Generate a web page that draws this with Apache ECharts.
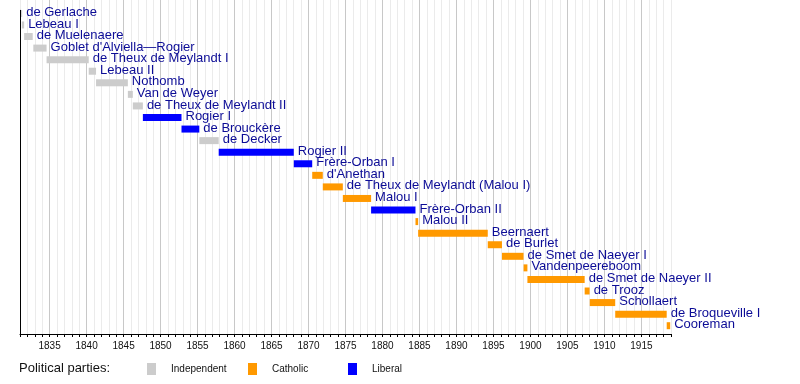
<!DOCTYPE html>
<html>
<head>
<meta charset="utf-8">
<script src="https://cdn.jsdelivr.net/npm/echarts@6/dist/echarts.min.js"></script>
<style>html,body{margin:0;padding:0;background:#fff}#c{width:800px;height:384px}</style>
</head>
<body>
<div id="c"></div>
<script>
var names = ["de Gerlache","Lebeau I","de Muelenaere","Goblet d'Alviella\u2014Rogier","de Theux de Meylandt I","Lebeau II","Nothomb","Van de Weyer","de Theux de Meylandt II","Rogier I","de Brouckère","de Decker","Rogier II","Frère-Orban I","d'Anethan","de Theux de Meylandt (Malou I)","Malou I","Frère-Orban II","Malou II","Beernaert","de Burlet","de Smet de Naeyer I","Vandenpeereboom","de Smet de Naeyer II","de Trooz","Schollaert","de Broqueville I","Cooreman"];
var starts = [1831.16,1831.24,1831.56,1832.80,1834.59,1840.29,1841.28,1845.58,1846.25,1847.61,1852.83,1855.24,1857.86,1868.01,1870.50,1871.93,1874.64,1878.46,1884.46,1884.82,1894.23,1896.15,1899.07,1899.59,1907.33,1908.02,1911.46,1918.42];
var ends = [1831.22,1831.56,1832.72,1834.59,1840.29,1841.28,1845.58,1846.25,1847.61,1852.83,1855.24,1857.86,1868.01,1870.50,1871.93,1874.64,1878.46,1884.46,1884.82,1894.23,1896.15,1899.07,1899.59,1907.33,1908.00,1911.46,1918.42,1918.89];
var parties = ["Independent","Independent","Independent","Independent","Independent","Independent","Independent","Independent","Independent","Liberal","Liberal","Independent","Liberal","Liberal","Catholic","Catholic","Catholic","Liberal","Catholic","Catholic","Catholic","Catholic","Catholic","Catholic","Catholic","Catholic","Catholic","Catholic"];
var partyNames = ["Independent","Catholic","Liberal"];
var partyColors = {"Independent":"#cccccc","Catholic":"#ff9900","Liberal":"#0000ff"};
var axisMin = 1831, axisMax = 1919;

var chart = echarts.init(document.getElementById('c'), null, {renderer:'canvas'});

function renderItem(params, api) {
  var y = api.value(2);
  var s = api.coord([api.value(0), y]);
  var e = api.coord([api.value(1), y]);
  var h = 7;
  var w = Math.max(e[0] - s[0], 1);
  return {
    type: 'group',
    children: [
      {type:'rect', shape:{x:s[0], y:s[1]-h/2, width:w, height:h}, style:{fill: api.visual('color')}},
      {type:'text', x: s[0] + w + 4, y: s[1] - 1,
       style:{text: names[api.value(3)], fill:'#0c0c96', font:'13px "Liberation Sans", Arial, sans-serif', align:'left', verticalAlign:'middle'}}
    ]
  };
}

var series = partyNames.map(function(p, pi){
  var data = [];
  for (var i = 0; i < names.length; i++) {
    if (parties[i] === p) data.push([starts[i], ends[i], i, i]);
  }
  var s = {
    name: p, type:'custom', renderItem: renderItem, clip:false,
    itemStyle:{color: partyColors[p]},
    encode:{x:[0,1], y:2},
    data: data,
    silent:true
  };
  if (pi === 0) {
    s.markLine = {
      silent:true, symbol:['none','none'], animation:false,
      label:{show:false},
      lineStyle:{color:'#000', width:1, type:'solid'},
      emphasis:{disabled:true},
      data:[[{coord:[axisMin, -0.3]},{coord:[axisMin, 27.717]}]]
    };
  }
  return s;
});

var legendLefts = [147, 248, 348];
var legends = partyNames.map(function(p, i){
  return {
    data:[p], left: legendLefts[i], top: 363, padding:0,
    icon:'rect', itemWidth:9, itemHeight:12, selectedMode:false,
    textStyle:{fontSize:10, color:'#111', fontFamily:'"Liberation Sans", Arial, sans-serif', padding:[0,0,0,10]}
  };
});

chart.setOption({
  animation:false,
  backgroundColor:'#fff',
  title:{text:'Political parties:', left:19, top:362, padding:0,
    textStyle:{fontSize:13, fontWeight:'normal', color:'#111', fontFamily:'"Liberation Sans", Arial, sans-serif'}},
  legend: legends,
  grid:{left:20, right:129, top:0, bottom:50, containLabel:false},
  xAxis:{
    type:'value', min:axisMin, max:axisMax, interval:1, position:'bottom',
    axisLine:{show:true, onZero:false, lineStyle:{color:'#000', width:1}},
    axisTick:{show:true, length:3, lineStyle:{color:'#000'}},
    axisLabel:{margin:7, fontSize:10, color:'#111', fontFamily:'"Liberation Sans", Arial, sans-serif',
      formatter:function(v){ return (v % 5 === 0) ? String(v) : ''; }},
    splitLine:{show:true, lineStyle:{color:['#ebebeb','#ebebeb','#ebebeb','#ebebeb','#c8c8c8'], width:1}}
  },
  yAxis:{
    type:'value', inverse:true, min:-1.158, max:27.717,
    show:false
  },
  series: series
});
</script>
</body>
</html>
